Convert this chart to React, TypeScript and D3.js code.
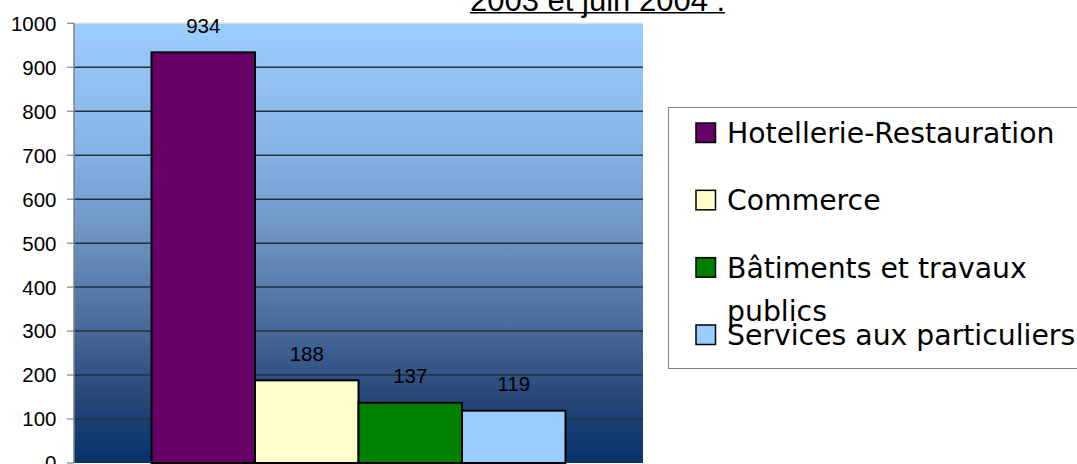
import React, { useRef, useEffect } from "react";
import * as d3 from "d3";

const categories = ["Hotellerie-Restauration", "Commerce", "Bâtiments et travaux publics", "Services aux particuliers"];
const values = [934, 188, 137, 119];
const colors = ["#660066", "#FFFFCC", "#008000", "#99CCFF"];
const yTicks = [0, 100, 200, 300, 400, 500, 600, 700, 800, 900, 1000];
const title = "2003 et juin 2004 :";

export default function App() {
  const ref = useRef<SVGSVGElement>(null);

  useEffect(() => {
    const width = 1077;
    const height = 464;
    const plot = { left: 74, right: 643, top: 23.3, bottom: 463 };

    const svg = d3.select(ref.current);
    svg.selectAll("*").remove();
    svg.attr("width", width).attr("height", height);

    const defs = svg.append("defs");
    const grad = defs.append("linearGradient")
      .attr("id", "bg")
      .attr("x1", 0).attr("y1", 0).attr("x2", 0).attr("y2", 1);
    const stops: [string, string][] = [
      ["0%", "#9ccdff"],
      ["30%", "#84b2e4"],
      ["50%", "#6a90c0"],
      ["70%", "#46699a"],
      ["85%", "#28477a"],
      ["100%", "#06336a"],
    ];
    stops.forEach(([o, c]) => grad.append("stop").attr("offset", o).attr("stop-color", c));

    const y = d3.scaleLinear().domain([0, 1000]).range([plot.bottom, plot.top]);

    // one category, bars side by side
    const outer = d3.scaleBand().domain(["all"]).range([plot.left, plot.right])
      .paddingInner(0.1577).paddingOuter(0.1577);
    const x = d3.scaleBand().domain(categories)
      .range([outer("all")!, outer("all")! + outer.bandwidth()]);

    // title (cut off at the top)
    const t = svg.append("text")
      .attr("x", 470).attr("y", 10.5)
      .attr("font-family", "Liberation Sans, Arial, sans-serif")
      .attr("font-size", 31)
      .attr("fill", "#000")
      .text(title);
    const tw = (t.node() as SVGTextElement).getComputedTextLength();
    svg.append("line")
      .attr("x1", 470).attr("x2", 470 + tw)
      .attr("y1", 12.8).attr("y2", 12.8)
      .attr("stroke", "#000").attr("stroke-width", 1.6);

    // plot background
    svg.append("rect")
      .attr("x", plot.left).attr("y", plot.top)
      .attr("width", plot.right - plot.left)
      .attr("height", plot.bottom - plot.top)
      .attr("fill", "url(#bg)");

    // gridlines
    svg.append("g")
      .selectAll("line")
      .data(yTicks.filter(d => d > 0))
      .enter()
      .append("line")
      .attr("x1", plot.left).attr("x2", plot.right)
      .attr("y1", d => y(d)).attr("y2", d => y(d))
      .attr("stroke", d => (d === 1000 ? "#dddddd" : "#25303c"))
      .attr("stroke-width", 1.5);

    // y axis
    svg.append("line")
      .attr("x1", plot.left).attr("x2", plot.left)
      .attr("y1", plot.top).attr("y2", plot.bottom)
      .attr("stroke", "#808080").attr("stroke-width", 1.5);

    const ticks = svg.append("g");
    ticks.selectAll("line")
      .data(yTicks)
      .enter()
      .append("line")
      .attr("x1", plot.left - 7).attr("x2", plot.left)
      .attr("y1", d => y(d)).attr("y2", d => y(d))
      .attr("stroke", "#808080").attr("stroke-width", 1.2);
    ticks.selectAll("text")
      .data(yTicks)
      .enter()
      .append("text")
      .attr("x", 56.5)
      .attr("y", d => y(d))
      .attr("dy", "0.36em")
      .attr("text-anchor", "end")
      .attr("font-family", "Liberation Sans, Arial, sans-serif")
      .attr("font-size", 20.5)
      .attr("fill", "#000")
      .text(d => d);

    // bars
    const bars = svg.append("g");
    bars.selectAll("rect")
      .data(categories)
      .enter()
      .append("rect")
      .attr("x", d => x(d)!)
      .attr("y", (d, i) => y(values[i]))
      .attr("width", x.bandwidth())
      .attr("height", (d, i) => y(0) - y(values[i]))
      .attr("fill", (d, i) => colors[i])
      .attr("stroke", "#000")
      .attr("stroke-width", 2);

    bars.selectAll("text")
      .data(categories)
      .enter()
      .append("text")
      .attr("x", d => x(d)! + x.bandwidth() / 2)
      .attr("y", (d, i) => y(values[i]) - 19.5)
      .attr("text-anchor", "middle")
      .attr("font-family", "Liberation Sans, Arial, sans-serif")
      .attr("font-size", 20.5)
      .attr("fill", "#000")
      .text((d, i) => values[i]);

    // legend
    const legend = svg.append("g");
    legend.append("rect")
      .attr("x", 668.5).attr("y", 107.5)
      .attr("width", 440).attr("height", 261)
      .attr("fill", "#fff")
      .attr("stroke", "#808080").attr("stroke-width", 1);

    const rowY = d3.scaleLinear().domain([0, 3]).range([143, 345]);
    const maxW = 352;

    categories.forEach((c, i) => {
      const by = rowY(i);
      legend.append("rect")
        .attr("x", 696).attr("y", by - 20)
        .attr("width", 19.5).attr("height", 19.5)
        .attr("fill", colors[i])
        .attr("stroke", "#000").attr("stroke-width", 1.5);

      const txt = legend.append("text")
        .attr("x", 727).attr("y", by)
        .attr("font-family", "DejaVu Sans, Verdana, sans-serif")
        .attr("font-size", 28.3)
        .attr("fill", "#000");

      // wrap long labels
      const words = c.split(" ");
      let line: string[] = [];
      let lineNo = 0;
      let tspan = txt.append("tspan").attr("x", 727).attr("y", by);
      words.forEach(w => {
        line.push(w);
        tspan.text(line.join(" "));
        if ((tspan.node() as SVGTextElement).getComputedTextLength() > maxW && line.length > 1) {
          line.pop();
          tspan.text(line.join(" "));
          line = [w];
          lineNo += 1;
          tspan = txt.append("tspan").attr("x", 727).attr("y", by + lineNo * 43).text(w);
        }
      });
    });
  }, []);

  return (
    <svg ref={ref} style={{ position: "absolute", left: 0, top: 0, display: "block" }}></svg>
  );
}
